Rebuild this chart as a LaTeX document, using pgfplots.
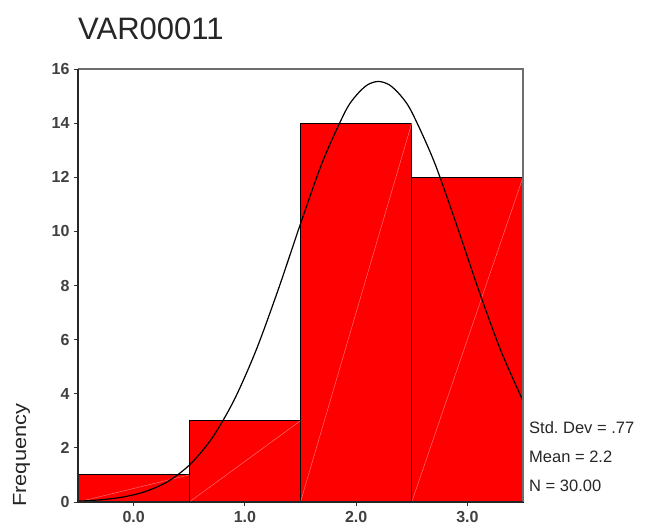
\documentclass[border=0pt]{standalone}
\usepackage{pgfplots}
\pgfplotsset{compat=1.18}
\usepackage{fontspec}
\setmainfont{Liberation Sans}
\usetikzlibrary{calc}

\definecolor{barred}{RGB}{255,0,0}
\definecolor{framegray}{RGB}{110,110,110}

\begin{document}
\begin{tikzpicture}
\begin{axis}[
    name=ax,
    scale only axis,
    width=445pt, height=433pt,
    xmin=-0.5, xmax=3.5,
    ymin=0, ymax=16,
    axis line style={draw=none},
    xtick={0,1,2,3},
    xticklabels={0.0,1.0,2.0,3.0},
    ytick={0,2,...,16},
    xtick pos=bottom, ytick pos=left,
    tick align=outside,
    major tick length=4pt,
    tick style={black!80, line width=0.8pt},
    /pgf/number format/assume math mode=true,
    ticklabel style={font=\fontsize{16}{18}\selectfont\bfseries, text=black!75},
    yticklabel style={xshift=-1pt},
    xticklabel style={yshift=-2pt},
    clip=false,
]
% histogram: counts per bin
\addplot[ybar, bar width=1, bar shift=0, fill=barred, draw=black, line width=0.9pt]
    coordinates {(0,1) (1,3) (2,14) (3,12)};

% faint diagonal streaks inside the bars
\addplot[white!50!barred, line width=0.4pt] coordinates {(-0.5,0) (0.5,1)};
\addplot[white!50!barred, line width=0.4pt] coordinates {(0.5,0) (1.5,3)};
\addplot[white!50!barred, line width=0.4pt] coordinates {(1.5,0) (2.5,14)};
\addplot[white!50!barred, line width=0.4pt] coordinates {(2.5,0) (3.5,12)};

% normal curve
\addplot[black, line width=1.2pt, smooth] coordinates {
    (-0.5,0.03) (-0.3,0.08) (-0.1,0.18) (0.1,0.38) (0.3,0.74)
    (0.5,1.36) (0.7,2.33) (0.9,3.74) (1.1,5.60) (1.3,7.85)
    (1.5,10.28) (1.7,12.59) (1.9,14.41) (2.0,15.02) (2.1,15.41)
    (2.2,15.54) (2.3,15.41) (2.4,15.02) (2.5,14.41) (2.7,12.59)
    (2.9,10.28) (3.1,7.85) (3.3,5.60) (3.5,3.74)
};

% frame: light top/right, dark left/bottom
\draw[framegray, line width=1.4pt] (rel axis cs:0,1) -- (rel axis cs:1,1) -- (rel axis cs:1,0);
\draw[black!85, line width=1.8pt] (rel axis cs:0,1) -- (rel axis cs:0,0) -- (rel axis cs:1,0);
\end{axis}

% title
\node[anchor=base west, inner sep=0pt, font=\fontsize{31}{34}\selectfont, text=black!85]
    at ($(ax.north west)+(0pt,29pt)$) {VAR00011};

% y label
\node[anchor=base west, inner sep=0pt, rotate=90, font=\fontsize{19}{21}\selectfont, text=black!85]
    at ($(ax.south west)+(-52pt,-5pt)$) {\scalebox{1.15}[1]{Frequency}};

% statistics
\node[anchor=base west, inner sep=0pt, font=\fontsize{16.5}{18}\selectfont, text=black!85]
    at ($(ax.south east)+(6pt,68pt)$) {Std.\ Dev = .77};
\node[anchor=base west, inner sep=0pt, font=\fontsize{16.5}{18}\selectfont, text=black!85]
    at ($(ax.south east)+(6pt,39pt)$) {Mean = 2.2};
\node[anchor=base west, inner sep=0pt, font=\fontsize{16.5}{18}\selectfont, text=black!85]
    at ($(ax.south east)+(6pt,10pt)$) {N = 30.00};

\pgfresetboundingbox
\path ($(ax.south west)+(-78pt,-29pt)$) rectangle ($(ax.north east)+(123pt,69pt)$);
\end{tikzpicture}
\end{document}
